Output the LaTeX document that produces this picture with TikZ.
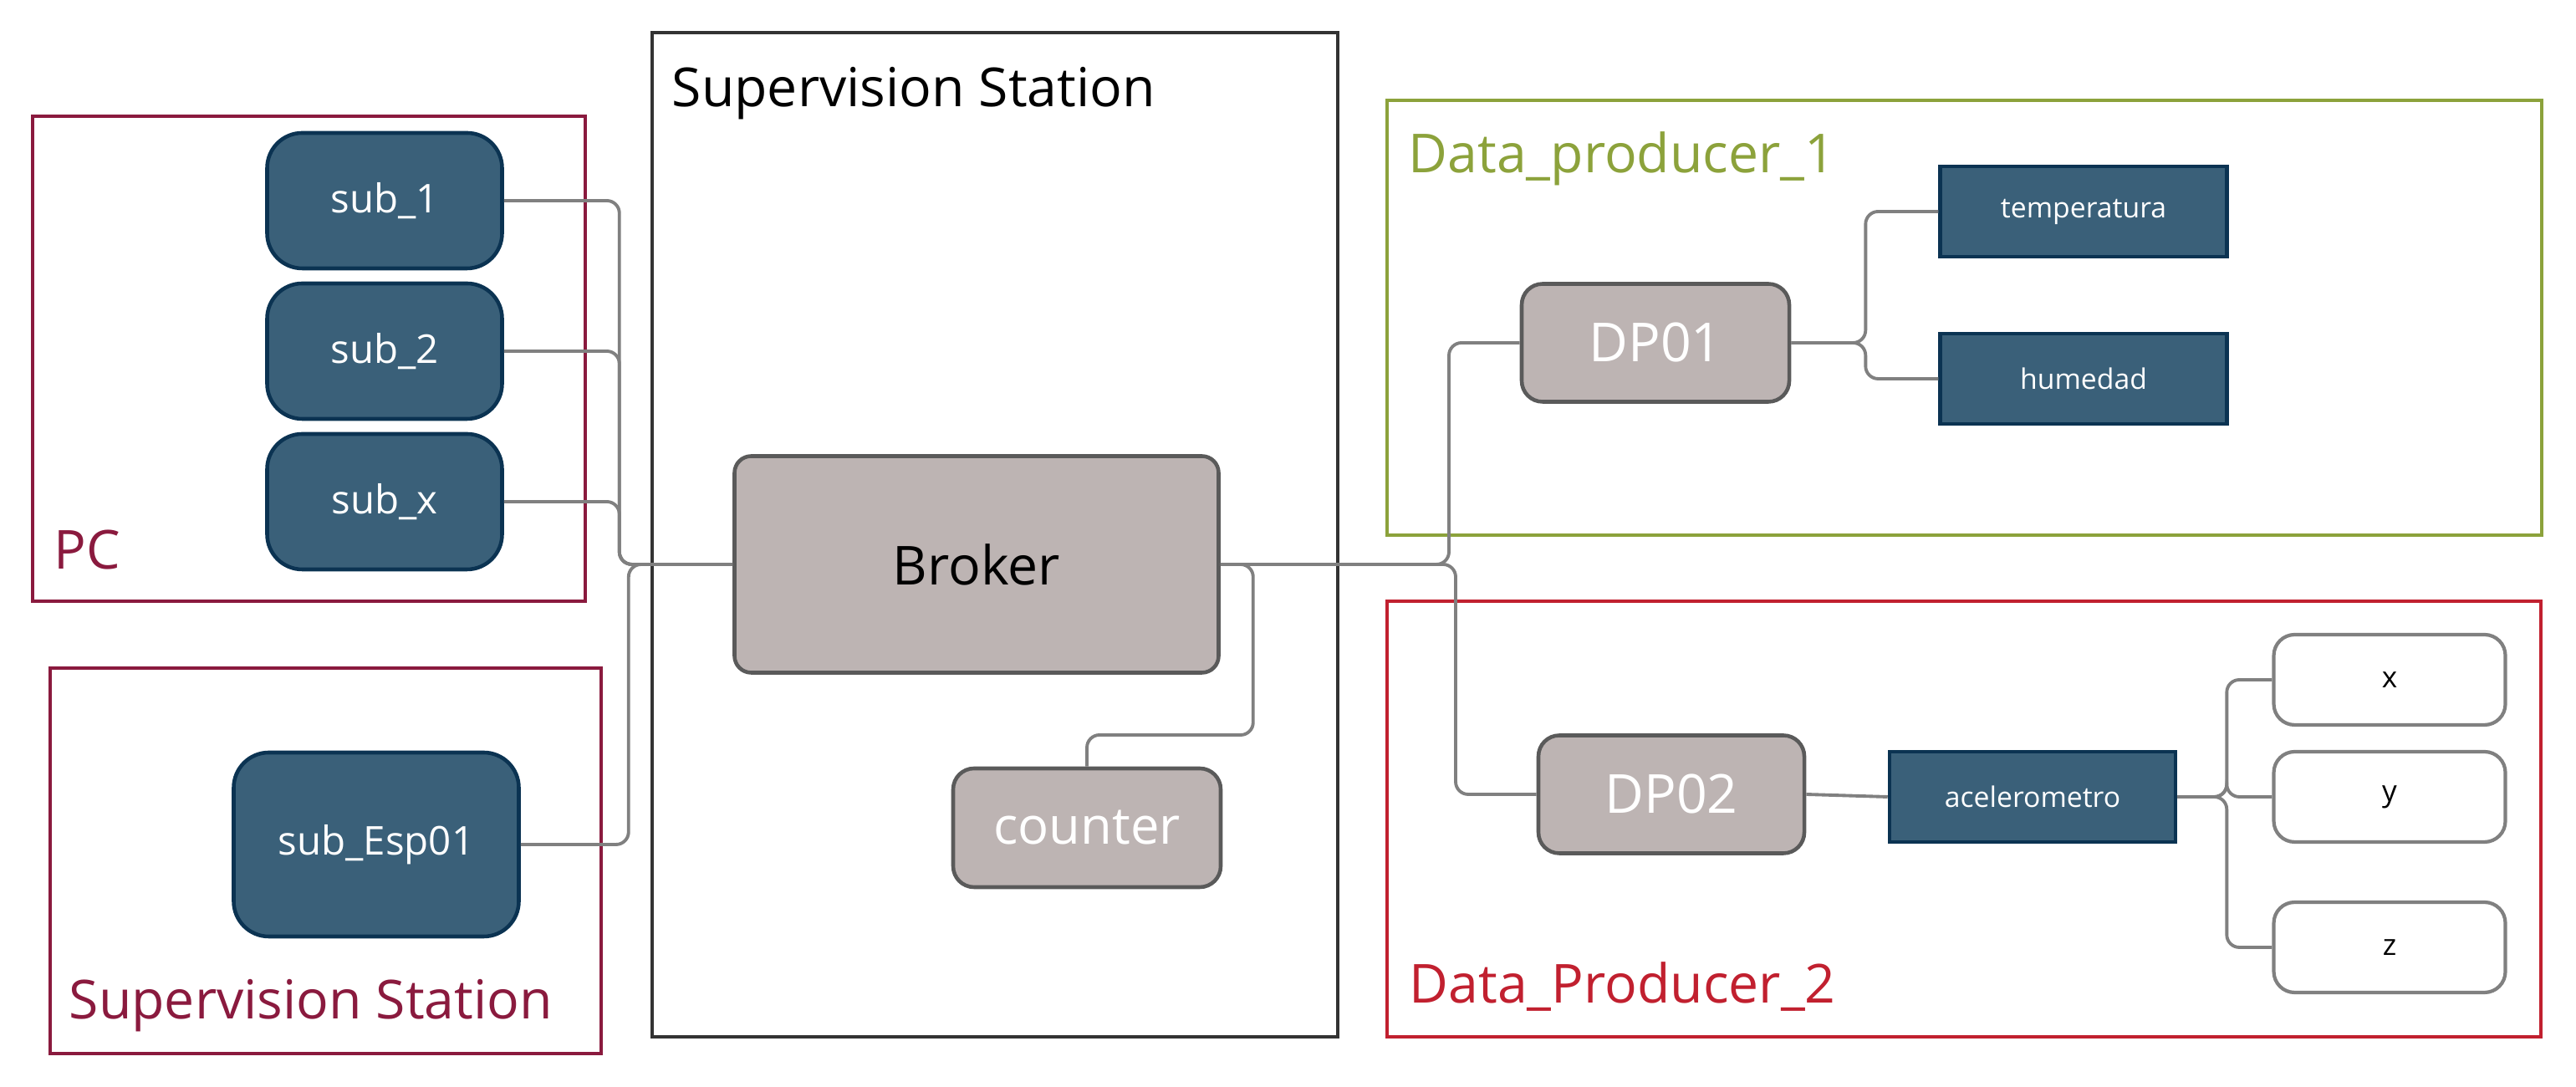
\documentclass[tikz,border=0pt]{standalone}
\usepackage{fontspec}
\setmainfont{Open Sans}
\usepackage{tikz}
\usetikzlibrary{calc}

\definecolor{subblue}{HTML}{3A6079}
\definecolor{subedge}{HTML}{0B3352}
\definecolor{greybox}{HTML}{BDB4B3}
\definecolor{greyedge}{HTML}{5A5A5A}
\definecolor{pcred}{HTML}{8A1A3E}
\definecolor{dpgreen}{HTML}{8CA23B}
\definecolor{dpred}{HTML}{C1202F}
\definecolor{linkgrey}{HTML}{808080}

\tikzset{
    subnode/.style={draw=subedge, fill=subblue, line width=1.3pt, rounded corners=0.42cm,
        minimum width=2.81cm, minimum height=1.62cm, text=white, font=\fontsize{13.5}{16}\selectfont},
    greynode/.style={draw=greyedge, fill=greybox, line width=1.3pt, rounded corners=0.25cm,
        text=white, font=\fontsize{18.3}{22}\selectfont},
    topicnode/.style={draw=subedge, fill=subblue, line width=1.3pt,
        minimum width=3.43cm, minimum height=1.08cm, text=white, font=\fontsize{9.6}{11}\selectfont},
    axisnode/.style={draw=linkgrey, fill=white, line width=1.2pt, rounded corners=0.25cm,
        minimum width=2.77cm, minimum height=1.08cm, font=\fontsize{10}{12}\selectfont},
    frame/.style={line width=1.2pt},
    title/.style={anchor=base west, inner sep=0pt, font=\fontsize{18.3}{22}\selectfont},
    link/.style={draw=linkgrey, line width=1.1pt, rounded corners=0.15cm},
}

\begin{document}
\begin{tikzpicture}
    \useasboundingbox (0, 0) rectangle (30.81, 13.00);

    % frames
    \draw[frame, draw=pcred] (0.39, 5.81) rectangle (7.00, 11.61);
    \draw[frame, draw=pcred] (0.60, 0.40) rectangle (7.19, 5.01);
    \draw[frame, draw=black!80] (7.80, 0.60) rectangle (16.00, 12.61);
    \draw[frame, draw=dpgreen] (16.59, 6.60) rectangle (30.40, 11.80);
    \draw[frame, draw=dpred] (16.59, 0.60) rectangle (30.39, 5.81);

    \node[title, text=pcred] at (0.64, 6.19) (pclabel) {PC};
    \node[title, text=pcred] at (0.82, 0.81) (esplabel) {Supervision Station};
    \node[title, text=black] at (8.03, 11.72) (sslabel) {Supervision Station};
    \node[title, text=dpgreen] at (16.84, 10.93) (dp1label) {Data\_producer\_1};
    \node[title, text=dpred] at (16.85, 1.00) (dp2label) {Data\_Producer\_2};

    % subscribers
    \node[subnode] at (4.60, 10.60) (sub1) {sub\_1};
    \node[subnode] at (4.60, 8.80) (sub2) {sub\_2};
    \node[subnode] at (4.60, 7.00) (subx) {sub\_x};
    \node[subnode, minimum width=3.41cm, minimum height=2.20cm] at (4.50, 2.90) (esp) {sub\_Esp01};

    % broker side
    \node[greynode, text=black, rounded corners=0.2cm, minimum width=5.79cm, minimum height=2.59cm] at (11.68, 6.25) (broker) {Broker};
    \node[greynode, font=\fontsize{17.5}{21}\selectfont, minimum width=3.20cm, minimum height=1.42cm] at (13.00, 3.10) (counter) {counter};

    % producers
    \node[greynode, minimum width=3.20cm, minimum height=1.41cm] at (19.80, 8.90) (dp01) {DP01};
    \node[topicnode] at (24.92, 10.47) (temp) {temperatura};
    \node[topicnode] at (24.92, 8.47) (hum) {humedad};

    \node[greynode, minimum width=3.18cm, minimum height=1.41cm] at (19.99, 3.50) (dp02) {DP02};
    \node[topicnode, minimum width=3.42cm] at (24.31, 3.47) (acc) {acelerometro};
    \node[axisnode] at (28.58, 4.87) (ax) {x};
    \node[axisnode] at (28.58, 3.47) (ay) {y};
    \node[axisnode] at (28.58, 1.67) (az) {z};

    \coordinate (busdp1) at (17.33, 6.25);
    \coordinate (busdp2) at (17.41, 6.25);

    \draw[link] (sub1.east) -- ++(1.38, 0) |- (broker.west);
    \draw[link] (sub2.east) -- ++(1.38, 0) |- (broker.west);
    \draw[link] (subx.east) -- ++(1.38, 0) |- (broker.west);
    \draw[link] (esp.east) -- ++(1.29, 0) |- (broker.west);

    \draw[link] (broker.east) -- (busdp1) |- (dp01.west);
    \draw[link] (broker.east) -- (busdp2) |- (dp02.west);
    \draw[link] (broker.east) -| ++(0.39, -2.04) -| (counter.north);

    \draw[link] (dp01.east) -- ++(0.89, 0) |- (temp.west);
    \draw[link] (dp01.east) -- ++(0.89, 0) |- (hum.west);

    \draw[link] (dp02.east) -- (acc.west);
    \draw[link] (acc.east) -- ++(0.59, 0) |- (ax.west);
    \draw[link] (acc.east) -- ++(0.59, 0) |- (ay.west);
    \draw[link] (acc.east) -- ++(0.59, 0) |- (az.west);
\end{tikzpicture}
\end{document}
